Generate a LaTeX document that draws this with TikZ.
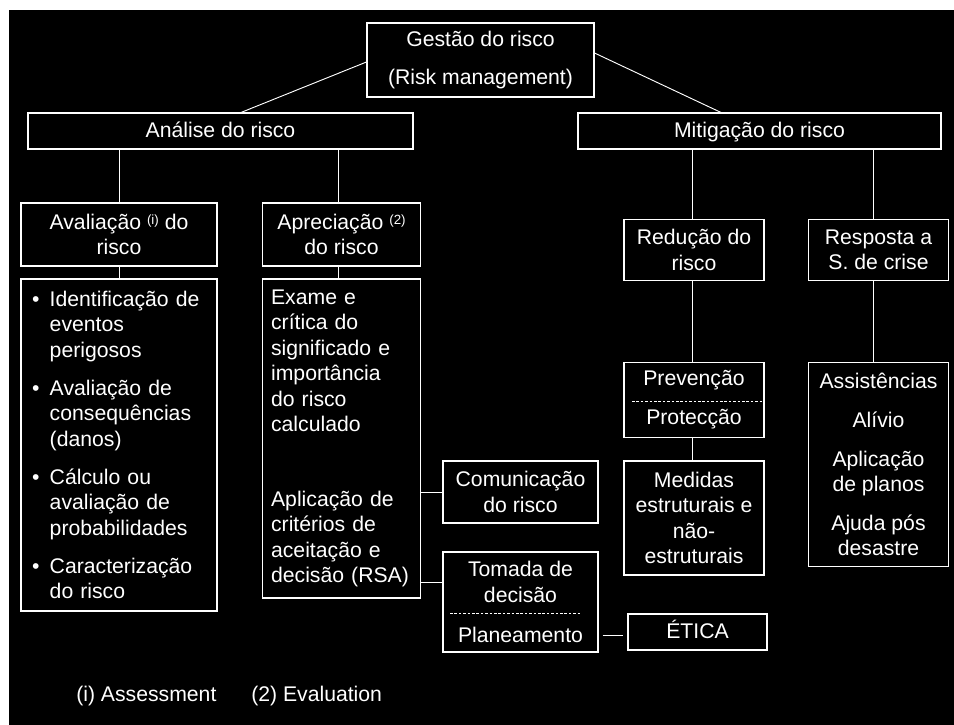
\documentclass[tikz,border=0pt]{standalone}
\usepackage{fontspec}
\setmainfont{Liberation Sans}
\usetikzlibrary{calc}
\newcommand{\supx}[1]{\raisebox{4pt}{\fontsize{10}{10}\selectfont #1}}
\newcommand{\bul}{\makebox[13.3pt][l]{•}}
\newcommand{\ind}{\hspace*{13.3pt}}
\begin{document}
\begin{tikzpicture}[x=0.75pt,y=-0.75pt,
  sz/.style 2 args={minimum width=#1*0.75pt,minimum height=#2*0.75pt},
  box/.style={draw=white,line width=0.8pt,text=white,inner sep=0pt,align=center,
    font=\fontsize{15.9}{19.1}\selectfont},
  oneline/.style={text height=11.4pt,text depth=2.4pt},
  lbox/.style={box,align=left,inner ysep=0pt},
  conn/.style={draw=white,line width=0.7pt},
  sepline/.style={draw=white,line width=0.6pt,dash pattern=on 2pt off 1.3pt},
  note/.style={text=white,inner sep=0pt,anchor=west,font=\fontsize{15.9}{19.1}\selectfont}]
\useasboundingbox (0,0) rectangle (954,725);
\fill[white] (0,0) rectangle (954,725);
\fill[black] (9,10) rectangle (954,725);

% boxes
\node[box,sz={227}{74}] (gestao) at (480.5,60) {Gestão do risco\\[10pt](Risk management)};
\node[box,oneline,sz={385}{36}] (analise) at (220.5,131) {Análise do risco};
\node[box,oneline,sz={363}{36}] (mitig) at (759.5,131) {Mitigação do risco};
\node[box,sz={196}{63}] (aval) at (119,234.5) {Avaliação \supx{(i)} do\\risco};
\node[box,sz={158}{63}] (aprec) at (341.5,234.5) {Apreciação \supx{(2)}\\do risco};
\node[lbox,sz={196}{332},inner xsep=11*0.75pt,text width=174*0.75pt] (avlist) at (119,445)
  {\bul Identificação de\\\ind eventos\\\ind perigosos\\[9.5pt]%
   \bul Avaliação de\\\ind consequências\\\ind (danos)\\[9.5pt]%
   \bul Cálculo ou\\\ind avaliação de\\\ind probabilidades\\[9.5pt]%
   \bul Caracterização\\\ind do risco};
\node[lbox,sz={158}{319},inner xsep=8.6*0.75pt,text width=140.8*0.75pt] (aplist) at (341.5,438.5)
  {Exame e\\crítica do\\significado e\\importância\\do risco\\calculado\\[37pt]%
   Aplicação de\\critérios de\\aceitação e\\decisão (RSA)};
\node[box,sz={155}{62}] (comun) at (520.5,492) {Comunicação\\do risco};
\node[box,sz={155}{100}] (tomada) at (520.5,602) {Tomada de\\decisão\\[11pt]Planeamento};
\node[box,oneline,sz={139}{36}] (etica) at (697.5,632) {ÉTICA};
\node[box,sz={140}{61}] (reduc) at (694,250) {Redução do\\risco};
\node[box,sz={140}{61}] (resp) at (878.5,250) {Resposta a\\S. de crise};
\node[box,sz={140}{75}] (prev) at (694,400) {Prevenção\\[10pt]Protecção};
\node[box,sz={140}{114}] (medidas) at (694,518) {Medidas\\estruturais e\\não-\\estruturais};
\node[box,sz={140}{204}] (assist) at (878.5,464.5)
  {Assistências\\[10pt]Alívio\\[10pt]Aplicação\\de planos\\[10pt]Ajuda pós\\desastre};

% separators inside boxes
\draw[sepline] ($(tomada.center)+(-70.5,11)$) -- ($(tomada.center)+(59.5,11)$);
\draw[sepline] ($(prev.center)+(-62,1)$) -- ($(prev.center)+(68,1)$);

% connectors
\draw[conn] ($(gestao.west)+(0,2)$) -- ($(analise.north)+(20.5,0)$);
\draw[conn] ($(gestao.east)+(0,-7)$) -- ($(mitig.north)+(-38.5,0)$);
\draw[conn] (analise.south -| aval.north) -- (aval.north);
\draw[conn] (aval.south) -- (avlist.north);
\draw[conn] ($(aprec.north)+(-3.5,0)$) coordinate (c1) -- (c1 |- analise.south);
\draw[conn] ($(aprec.south)+(-3.5,0)$) coordinate (c2) -- (c2 |- aplist.north);
\draw[conn] ($(reduc.north)+(-2,0)$) coordinate (c3) -- (c3 |- mitig.south);
\draw[conn] ($(reduc.south)+(-2,0)$) coordinate (c4) -- (c4 |- prev.north);
\draw[conn] ($(prev.south)+(-2,0)$) coordinate (c5) -- (c5 |- medidas.north);
\draw[conn] ($(resp.north)+(-5.5,0)$) coordinate (c6) -- (c6 |- mitig.south);
\draw[conn] ($(resp.south)+(-5.5,0)$) coordinate (c7) -- (c7 |- assist.north);
\draw[conn] (comun.west -| aplist.east) -- (comun.west);
\draw[conn] ($(tomada.west)+(0,-20)$) coordinate (c8) -- (c8 -| aplist.east);
\draw[conn] ($(tomada.east)+(4,33)$) -- ($(etica.west)+(-4,3)$);

% footnotes
\node[note] (fn1) at (76,696) {(i) Assessment};
\node[note] (fn2) at (251,696) {(2) Evaluation};
\end{tikzpicture}
\end{document}
